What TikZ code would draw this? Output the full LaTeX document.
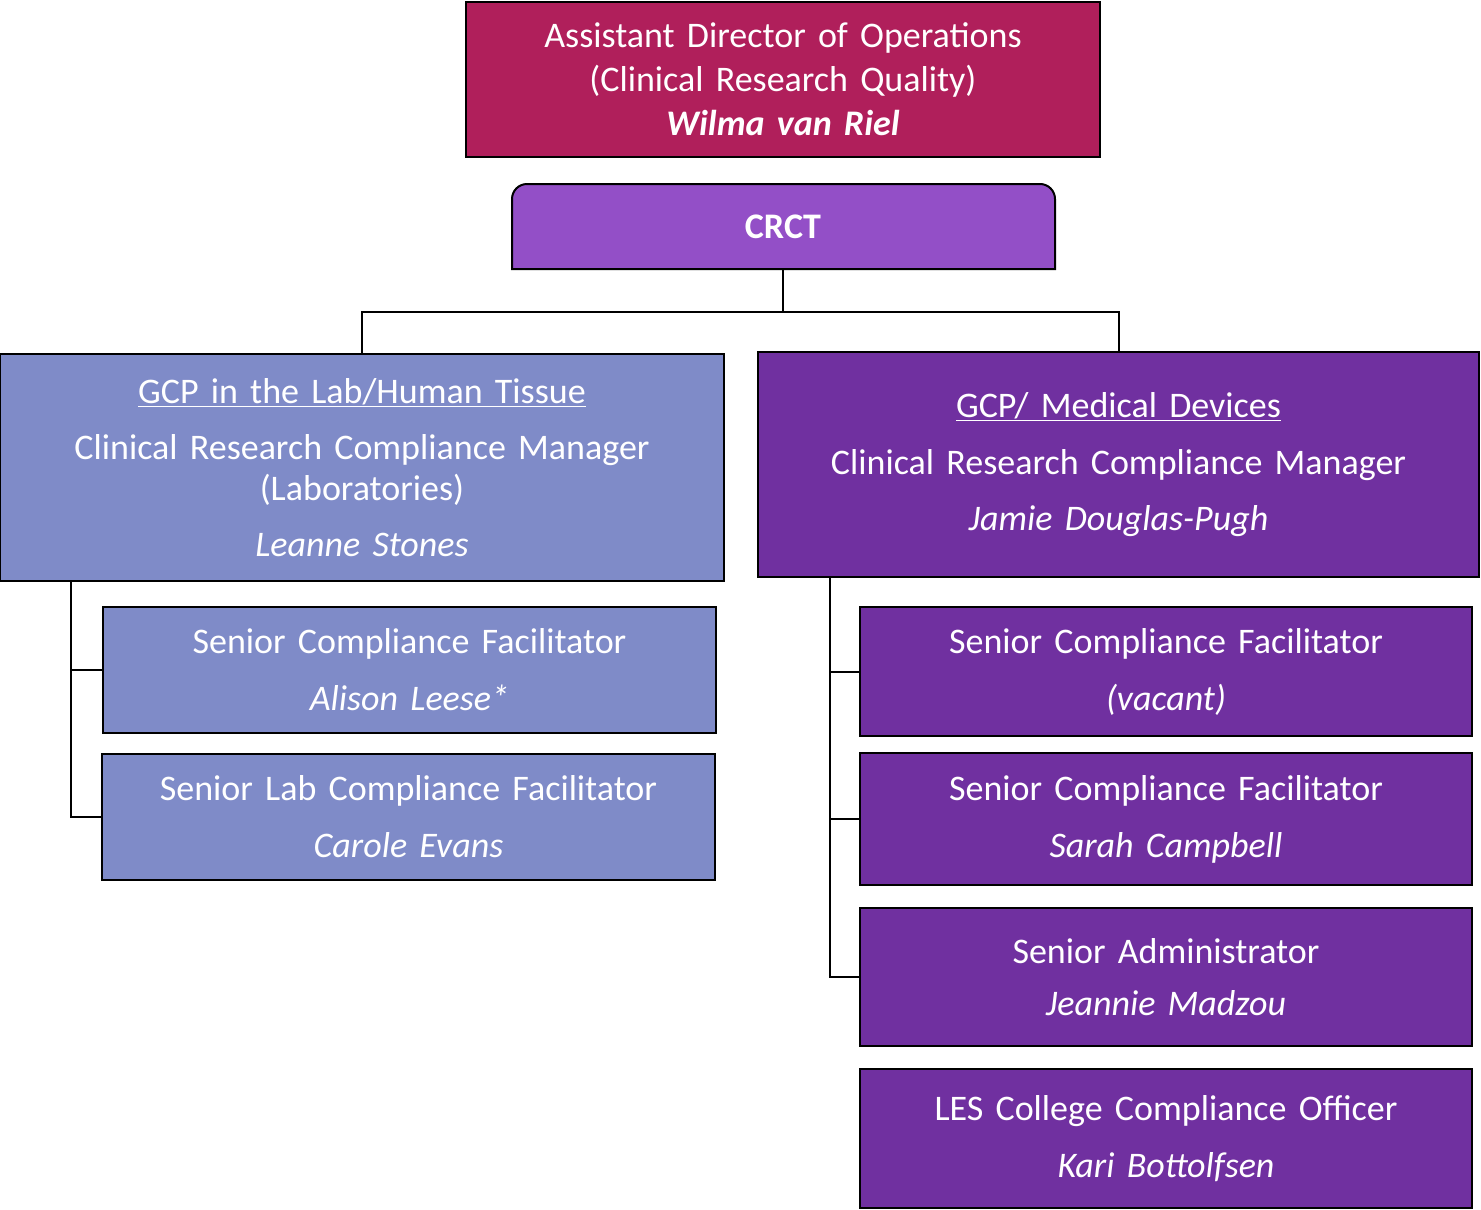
\documentclass[tikz,border=0pt]{standalone}
\usepackage{fontspec}
\setmainfont[WordSpace=1.5]{Carlito}
\definecolor{leadred}{HTML}{B01F5B}
\definecolor{crctpurple}{HTML}{934FC7}
\definecolor{labblue}{HTML}{7F8BC8}
\definecolor{devpurple}{HTML}{7030A0}
\tikzset{
  post/.style={draw=black, line width=2pt, text=white, align=center,
    inner sep=0pt, font=\fontsize{36pt}{41pt}\selectfont},
  link/.style={draw=black, line width=2pt},
}
\begin{document}
\begin{tikzpicture}[x=1pt,y=-1pt]
	\useasboundingbox (0,0) rectangle (1481,1210);
	% Leitung
	\node[post, fill=leadred, minimum width=634pt, minimum height=155pt] (adops)
	at (783,79.5) {Assistant Director of Operations\\[3pt]
	(Clinical Research Quality)\\[3pt] \textbf{\textit{Wilma van Riel}}};
	% CRCT, nur oben gerundet
	\filldraw[fill=crctpurple, line width=2pt] (512,269) [rounded corners=15pt]
	-- (512,184) -- (1055,184) [sharp corners] -- (1055,269) -- cycle;
	\node[post, draw=none, minimum width=543pt, minimum height=85pt] (crct)
	at (783,226.5) {\textbf{CRCT}};

	% Manager
	\node[post, fill=labblue, minimum width=724pt, minimum height=227pt] (labmgr)
	at (362,467.5) {\underline{GCP in the Lab/Human Tissue}\\[15pt]
	Clinical Research Compliance Manager\\ (Laboratories)\\[15pt]
	\textit{Leanne Stones}};
	\node[post, fill=devpurple, minimum width=721pt, minimum height=225pt] (devmgr)
	at (1118.5,464.5) {\underline{GCP/ Medical Devices}\\[16pt]
	Clinical Research Compliance Manager\\[15pt] \textit{Jamie Douglas-Pugh}};

	% Labor
	\node[post, fill=labblue, minimum width=613pt, minimum height=126pt] (labsfa)
	at (409.5,670) {Senior Compliance Facilitator\\[16pt] \textit{Alison Leese*}};
	\node[post, fill=labblue, minimum width=613pt, minimum height=126pt] (labslcf)
	at (408.5,817) {Senior Lab Compliance Facilitator\\[16pt] \textit{Carole Evans}};

	% Medizinprodukte
	\node[post, fill=devpurple, minimum width=612pt, minimum height=129pt] (devsfa)
	at (1166,671.5) {Senior Compliance Facilitator\\[16pt] \textit{(vacant)}};
	\node[post, fill=devpurple, minimum width=612pt, minimum height=132pt] (devsfb)
	at (1166,819) {Senior Compliance Facilitator\\[16pt] \textit{Sarah Campbell}};
	\node[post, fill=devpurple, minimum width=612pt, minimum height=138pt] (devadmin)
	at (1166,977) {Senior Administrator\\[11pt] \textit{Jeannie Madzou}};
	\node[post, fill=devpurple, minimum width=612pt, minimum height=139pt] (lesofficer)
	at (1166,1138.5) {LES College Compliance Officer\\[16pt] \textit{Kari Bottolfsen}};

	% Verbindungen
	\coordinate (split) at (783,312);
	\draw[link] (crct.south) -- (split);
	\draw[link] (split) -| (labmgr.north);
	\draw[link] (split) -| (devmgr.north);
	\draw[link] ([xshift=72pt]labmgr.south west) |- (labsfa.west);
	\draw[link] ([xshift=72pt]labmgr.south west) |- (labslcf.west);
	\draw[link] ([xshift=73pt]devmgr.south west) |- (devsfa.west);
	\draw[link] ([xshift=73pt]devmgr.south west) |- (devsfb.west);
	\draw[link] ([xshift=73pt]devmgr.south west) |- (devadmin.west);
\end{tikzpicture}
\end{document}
